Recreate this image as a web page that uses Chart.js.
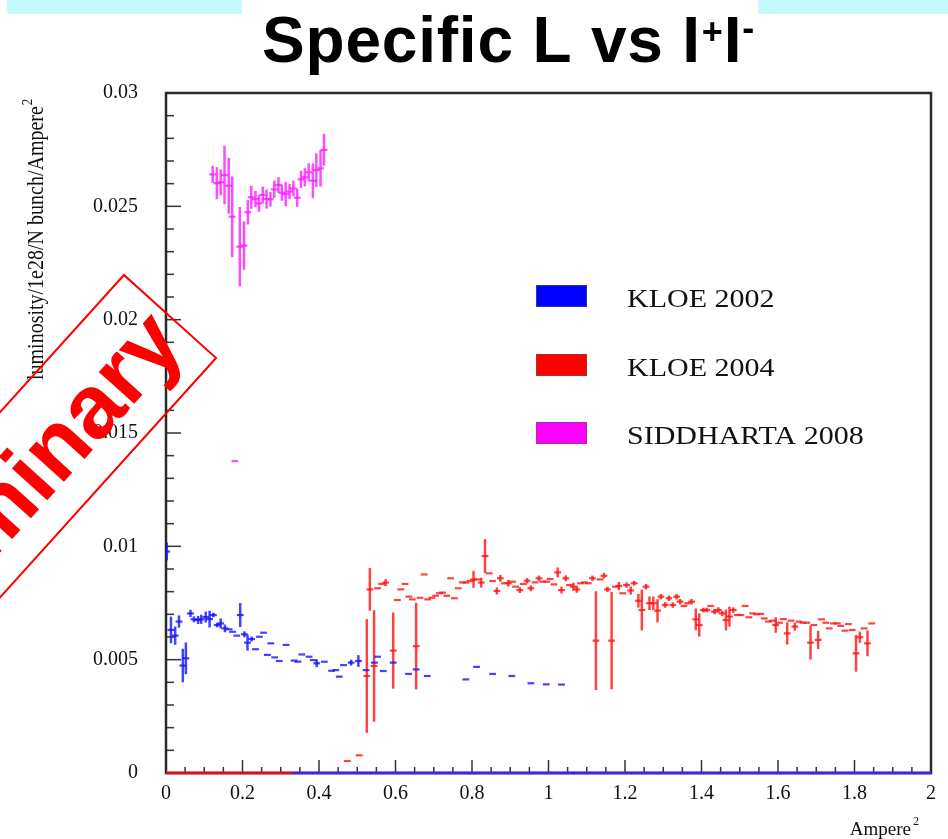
<!DOCTYPE html>
<html>
<head>
<meta charset="utf-8">
<title>Specific L vs I+I-</title>
<script src="https://cdn.jsdelivr.net/npm/chart.js@4.4.1/dist/chart.umd.min.js"></script>
<style>
    html, body { margin: 0; padding: 0; background: #fff; }
    #plot { display: block; }
</style>
</head>
<body>
<canvas id="plot" width="948" height="839"></canvas>
<script>
// Axis tick labels
const xTickLabels = ['0', '0.2', '0.4', '0.6', '0.8', '1', '1.2', '1.4', '1.6', '1.8', '2'];
const yTickLabels = ['0', '0.005', '0.01', '0.015', '0.02', '0.025', '0.03'];

const seriesNames = ['KLOE 2002', 'KLOE 2004', 'SIDDHARTA 2008'];

// KLOE 2002: current product (A^2), specific luminosity, error
const kloe02X = [
    0.002, 0.013, 0.024, 0.034, 0.044, 0.052, 0.064, 0.073, 0.084, 0.092,
    0.104, 0.114, 0.124, 0.134, 0.143, 0.154, 0.165, 0.174, 0.185, 0.194,
    0.205, 0.213, 0.224, 0.234, 0.244, 0.255, 0.265, 0.274, 0.284, 0.296,
    0.314, 0.335, 0.345, 0.355, 0.374, 0.385, 0.394, 0.414, 0.433, 0.444,
    0.453, 0.464, 0.484, 0.503, 0.523, 0.545, 0.553, 0.568, 0.594, 0.634,
    0.654, 0.683, 0.784, 0.812, 0.854, 0.904, 0.954, 0.994, 1.034
];
const kloe02Y = [
    0.00977, 0.00631, 0.00606, 0.00668, 0.00474, 0.00506, 0.00704, 0.00678, 0.00675, 0.00678,
    0.00688, 0.00679, 0.00697, 0.00653, 0.00660, 0.00638, 0.00634, 0.00623, 0.00606, 0.00697,
    0.00612, 0.00575, 0.00591, 0.00546, 0.00601, 0.00619, 0.00521, 0.00572, 0.00510, 0.00494,
    0.00565, 0.00496, 0.00491, 0.00523, 0.00513, 0.00498, 0.00484, 0.00491, 0.00451, 0.00454,
    0.00425, 0.00476, 0.00487, 0.00494, 0.00454, 0.00487, 0.00513, 0.00450, 0.00487, 0.00437,
    0.00457, 0.00428, 0.00413, 0.00468, 0.00437, 0.00428, 0.00396, 0.00391, 0.00390
];
const kloe02Err = [
    0.00039, 0.00059, 0.00040, 0.00027, 0.00074, 0.00070, 0.00016, 0.00013, 0.00018, 0.00020,
    0.00024, 0.00037, 0.00010, 0.00010, 0.00022, 0.00017, 0, 0, 0, 0.00053,
    0.00013, 0.00035, 0.00011, 0, 0, 0, 0, 0, 0, 0,
    0, 0, 0, 0, 0, 0, 0.00017, 0, 0, 0,
    0, 0, 0.00013, 0.00026, 0, 0, 0, 0, 0, 0,
    0, 0, 0, 0, 0, 0, 0, 0, 0
];

// KLOE 2004
const kloe04X = [
    0.474, 0.505, 0.525, 0.533, 0.544, 0.553, 0.564, 0.574, 0.594, 0.605,
    0.614, 0.625, 0.635, 0.644, 0.654, 0.664, 0.675, 0.684, 0.695, 0.705,
    0.715, 0.723, 0.734, 0.744, 0.754, 0.764, 0.775, 0.784, 0.795, 0.804,
    0.814, 0.824, 0.834, 0.845, 0.854, 0.865, 0.874, 0.885, 0.895, 0.906,
    0.914, 0.925, 0.934, 0.944, 0.954, 0.965, 0.975, 0.985, 0.995, 1.004,
    1.014, 1.024, 1.034, 1.045, 1.055, 1.065, 1.074, 1.084, 1.094, 1.104,
    1.115, 1.124, 1.135, 1.145, 1.154, 1.165, 1.175, 1.184, 1.194, 1.204,
    1.215, 1.224, 1.235, 1.244, 1.255, 1.264, 1.274, 1.285, 1.294, 1.305,
    1.315, 1.325, 1.335, 1.344, 1.354, 1.364, 1.374, 1.385, 1.394, 1.405,
    1.414, 1.424, 1.434, 1.444, 1.454, 1.464, 1.473, 1.483, 1.494, 1.503,
    1.514, 1.524, 1.534, 1.544, 1.555, 1.564, 1.575, 1.585, 1.594, 1.604,
    1.614, 1.624, 1.634, 1.644, 1.655, 1.665, 1.675, 1.685, 1.694, 1.705,
    1.714, 1.725, 1.734, 1.745, 1.755, 1.764, 1.775, 1.784, 1.794, 1.804,
    1.814, 1.825, 1.834, 1.845
];
const kloe04Y = [
    0.00053, 0.00078, 0.00428, 0.00810, 0.00472, 0.00815, 0.00834, 0.00840, 0.00540, 0.00763,
    0.00810, 0.00834, 0.00778, 0.00766, 0.00560, 0.00773, 0.00876, 0.00766, 0.00773, 0.00782,
    0.00793, 0.00796, 0.00782, 0.00859, 0.00771, 0.00815, 0.00841, 0.00840, 0.00847, 0.00854,
    0.00854, 0.00840, 0.00957, 0.00881, 0.00847, 0.00803, 0.00859, 0.00837, 0.00837, 0.00844,
    0.00822, 0.00807, 0.00834, 0.00848, 0.00815, 0.00841, 0.00859, 0.00844, 0.00844, 0.00856,
    0.00832, 0.00885, 0.00807, 0.00859, 0.00829, 0.00822, 0.00810, 0.00837, 0.00841, 0.00837,
    0.00859, 0.00584, 0.00854, 0.00870, 0.00810, 0.00584, 0.00822, 0.00825, 0.00793, 0.00829,
    0.00805, 0.00837, 0.00760, 0.00719, 0.00822, 0.00749, 0.00749, 0.00716, 0.00778, 0.00741,
    0.00771, 0.00741, 0.00778, 0.00756, 0.00737, 0.00749, 0.00756, 0.00678, 0.00653, 0.00719,
    0.00719, 0.00737, 0.00712, 0.00719, 0.00704, 0.00675, 0.00690, 0.00719, 0.00697, 0.00697,
    0.00737, 0.00687, 0.00704, 0.00700, 0.00702, 0.00682, 0.00668, 0.00672, 0.00653, 0.00663,
    0.00679, 0.00616, 0.00672, 0.00646, 0.00668, 0.00663, 0.00663, 0.00575, 0.00653, 0.00587,
    0.00678, 0.00663, 0.00638, 0.00660, 0.00660, 0.00649, 0.00628, 0.00657, 0.00631, 0.00528,
    0.00599, 0.00638, 0.00572, 0.00660
];
const kloe04Err = [
    0, 0, 0.00251, 0.00094, 0.00246, 0, 0, 0.00015, 0.00168, 0,
    0, 0, 0, 0, 0.00191, 0, 0, 0, 0, 0,
    0, 0, 0, 0, 0, 0, 0, 0, 0, 0.00037,
    0, 0.00022, 0.00075, 0, 0, 0.00015, 0.00015, 0, 0.00015, 0,
    0, 0.00013, 0, 0.00012, 0.00013, 0, 0.00012, 0, 0, 0,
    0, 0.00022, 0.00015, 0.00013, 0, 0.00018, 0.00015, 0, 0, 0,
    0.00012, 0.00218, 0, 0.00012, 0.00012, 0.00215, 0, 0.00018, 0, 0.00012,
    0.00018, 0.00010, 0.00030, 0.00090, 0.00012, 0.00030, 0.00030, 0.00051, 0.00012, 0.00012,
    0.00012, 0.00012, 0.00012, 0.00012, 0, 0, 0.00012, 0.00048, 0.00051, 0.00010,
    0.00010, 0, 0.00012, 0.00012, 0.00012, 0.00046, 0.00044, 0.00012, 0, 0,
    0, 0, 0, 0, 0, 0, 0, 0, 0.00034, 0,
    0, 0.00049, 0, 0.00018, 0, 0, 0, 0.00075, 0, 0.00040,
    0, 0, 0, 0, 0, 0, 0, 0, 0, 0.00081,
    0.00025, 0, 0.00057, 0
];

// SIDDHARTA 2008
const siddX = [
    0.122, 0.133, 0.143, 0.153, 0.164, 0.173, 0.180, 0.193, 0.204, 0.214,
    0.223, 0.234, 0.243, 0.253, 0.263, 0.273, 0.283, 0.294, 0.303, 0.313,
    0.323, 0.333, 0.343, 0.353, 0.363, 0.373, 0.384, 0.393, 0.404, 0.413
];
const siddY = [
    0.02641, 0.02602, 0.02606, 0.02638, 0.02591, 0.02454, 0.01376, 0.02322, 0.02327, 0.02474,
    0.02540, 0.02532, 0.02513, 0.02550, 0.02532, 0.02531, 0.02575, 0.02594, 0.02560, 0.02554,
    0.02565, 0.02579, 0.02538, 0.02619, 0.02628, 0.02650, 0.02613, 0.02660, 0.02668, 0.02749
];
const siddErr = [
    0.00038, 0.00071, 0.00057, 0.00129, 0.00123, 0.00178, 0, 0.00175, 0.00107, 0.00054,
    0.00051, 0.00036, 0.00037, 0.00037, 0.00042, 0.00032, 0.00038, 0.00035, 0.00035, 0.00054,
    0.00033, 0.00034, 0.00040, 0.00038, 0.00040, 0.00040, 0.00077, 0.00074, 0.00081, 0.00070
];

// empty bins sitting on the x axis
const emptyRedX = [0, 0.33];
const emptyBlueX = [0.33, 2];

const colBlue = 'rgba(20, 20, 255, 0.8)';
const colRed = 'rgba(255, 20, 20, 0.8)';
const colMagenta = 'rgba(255, 30, 255, 0.8)';

function points(xs, ys) {
    return xs.map((x, i) => ({ x: x, y: ys[i] }));
}

function markerSet(label, xs, ys, errs, color) {
    return {
        label: label,
        data: points(xs, ys),
        errors: errs,
        showLine: false,
        pointStyle: 'line',
        pointRadius: 3.4,
        pointBorderWidth: 2.2,
        borderColor: color,
        backgroundColor: color
    };
}

function zeroSet(xs, color) {
    return {
        label: '',
        data: xs.map(x => ({ x: x, y: 0 })),
        showLine: true,
        pointRadius: 0,
        borderWidth: 3,
        borderColor: color,
        clip: false
    };
}

const serif = "'Liberation Serif', 'Times New Roman', serif";

// frame and inward tick marks, drawn under the data
const framePlugin = {
    id: 'frame',
    beforeDatasetsDraw(chart) {
        const { ctx, chartArea: a, scales } = chart;
        ctx.save();
        ctx.strokeStyle = '#333';
        ctx.lineWidth = 1.5;
        for (let i = 0; i <= 30; i++) {
            const py = scales.y.getPixelForValue(i * 0.001);
            const len = i % 5 === 0 ? 15 : 8;
            ctx.beginPath();
            ctx.moveTo(a.left, py);
            ctx.lineTo(a.left + len, py);
            ctx.stroke();
        }
        for (let i = 0; i <= 40; i++) {
            const px = scales.x.getPixelForValue(i * 0.05);
            const len = i % 4 === 0 ? 13 : 6;
            ctx.beginPath();
            ctx.moveTo(px, a.bottom);
            ctx.lineTo(px, a.bottom - len);
            ctx.stroke();
        }
        ctx.lineWidth = 2.5;
        ctx.strokeStyle = '#2a2a2a';
        ctx.strokeRect(a.left, a.top, a.right - a.left, a.bottom - a.top);
        ctx.restore();
    }
};

// vertical error bars from each dataset's errors array
const errorBarPlugin = {
    id: 'errorBars',
    beforeDatasetsDraw(chart) {
        const { ctx, chartArea: a, scales } = chart;
        ctx.save();
        ctx.beginPath();
        ctx.rect(a.left, a.top, a.right - a.left, a.bottom - a.top);
        ctx.clip();
        ctx.lineWidth = 2.5;
        chart.data.datasets.forEach(ds => {
            if (!ds.errors) return;
            ctx.strokeStyle = ds.borderColor;
            ds.data.forEach((p, i) => {
                const e = ds.errors[i];
                if (!e) return;
                const px = scales.x.getPixelForValue(p.x);
                ctx.beginPath();
                ctx.moveTo(px, scales.y.getPixelForValue(p.y - e));
                ctx.lineTo(px, scales.y.getPixelForValue(p.y + e));
                ctx.stroke();
            });
        });
        ctx.restore();
    }
};

// title, axis titles, legend boxes and the stamp
const decorPlugin = {
    id: 'decor',
    afterDraw(chart) {
        const ctx = chart.ctx;
        ctx.save();

        // header strips
        ctx.fillStyle = '#c4fafd';
        ctx.fillRect(7, 0, 235, 14);
        ctx.fillRect(758, 0, 190, 14);

        // title with superscripts
        ctx.fillStyle = '#000';
        ctx.textBaseline = 'alphabetic';
        ctx.textAlign = 'left';
        ctx.letterSpacing = '0.8px';
        const big = "bold 64px 'Liberation Sans', Arial, sans-serif";
        const small = "bold 36px 'Liberation Sans', Arial, sans-serif";
        let tx = 262;
        ctx.font = big;
        ctx.fillText('Specific L vs I', tx, 62);
        tx += ctx.measureText('Specific L vs I').width + 1;
        ctx.font = small;
        ctx.fillText('+', tx, 44);
        tx += ctx.measureText('+').width;
        ctx.font = big;
        ctx.fillText('I', tx, 62);
        tx += ctx.measureText('I').width;
        ctx.font = small;
        ctx.fillText('-', tx, 40);
        ctx.letterSpacing = '0px';

        // y axis title
        ctx.save();
        ctx.translate(43, 380);
        ctx.rotate(-Math.PI / 2);
        ctx.scale(1, 1.15);
        ctx.font = '20px ' + serif;
        ctx.fillStyle = '#111';
        const yTitle = 'luminosity/1e28/N bunch/Ampere';
        ctx.fillText(yTitle, 0, 0);
        const yw = ctx.measureText(yTitle).width;
        ctx.font = '13px ' + serif;
        ctx.fillText('2', yw + 1, -10);
        ctx.restore();

        // x axis title
        ctx.font = '19px ' + serif;
        ctx.fillStyle = '#111';
        ctx.textAlign = 'right';
        ctx.fillText('Ampere', 911, 835);
        ctx.textAlign = 'left';
        ctx.font = '12px ' + serif;
        ctx.fillText('2', 913, 825);

        // legend
        const legendColors = ['#0000ff', '#ff0000', '#ff00ff'];
        const legendTops = [285, 354, 422];
        legendColors.forEach((c, i) => {
            ctx.fillStyle = c;
            ctx.fillRect(536, legendTops[i], 51, 22);
            ctx.strokeStyle = 'rgba(90,90,90,0.6)';
            ctx.lineWidth = 1;
            ctx.strokeRect(536.5, legendTops[i] + 0.5, 50, 21);
            ctx.save();
            ctx.translate(627, legendTops[i] + 22);
            ctx.scale(1.2, 1);
            ctx.fillStyle = '#111';
            ctx.font = '25px ' + serif;
            ctx.fillText(seriesNames[i], 0, 0);
            ctx.restore();
        });

        // rotated "Preliminary" stamp
        ctx.save();
        ctx.translate(170, 316.5);
        ctx.rotate(-0.8367);
        ctx.strokeStyle = '#ff0000';
        ctx.lineWidth = 2;
        ctx.strokeRect(-700, -62, 700, 124);
        ctx.fillStyle = '#ff0000';
        ctx.font = "bold 90px 'Liberation Sans', Arial, sans-serif";
        ctx.textAlign = 'right';
        ctx.fillText('Preliminary', -10, 32);
        ctx.restore();

        ctx.restore();
    }
};

new Chart(document.getElementById('plot'), {
    type: 'scatter',
    data: {
        datasets: [
            zeroSet(emptyRedX, 'rgba(230, 20, 40, 0.9)'),
            zeroSet(emptyBlueX, 'rgba(70, 40, 235, 0.9)'),
            markerSet(seriesNames[0], kloe02X, kloe02Y, kloe02Err, colBlue),
            markerSet(seriesNames[1], kloe04X, kloe04Y, kloe04Err, colRed),
            markerSet(seriesNames[2], siddX, siddY, siddErr, colMagenta)
        ]
    },
    options: {
        responsive: false,
        devicePixelRatio: 1,
        animation: false,
        layout: { padding: { top: 93, right: 17, left: 0, bottom: 0 } },
        plugins: {
            legend: { display: false },
            tooltip: { enabled: false }
        },
        scales: {
            x: {
                type: 'linear',
                min: 0,
                max: 2,
                grid: { display: false, drawTicks: false },
                border: { display: false },
                afterFit(scale) { scale.height = 66; },
                ticks: {
                    stepSize: 0.2,
                    autoSkip: false,
                    maxRotation: 0,
                    padding: 9,
                    color: '#111',
                    font: { family: serif, size: 20 },
                    callback: v => xTickLabels.find(l => Math.abs(parseFloat(l) - v) < 1e-9)
                }
            },
            y: {
                type: 'linear',
                min: 0,
                max: 0.03,
                grid: { display: false, drawTicks: false },
                border: { display: false },
                afterFit(scale) { scale.width = 166; },
                ticks: {
                    stepSize: 0.005,
                    autoSkip: false,
                    padding: 28,
                    color: '#111',
                    font: { family: serif, size: 20 },
                    callback: v => yTickLabels.find(l => Math.abs(parseFloat(l) - v) < 1e-9)
                }
            }
        }
    },
    plugins: [framePlugin, errorBarPlugin, decorPlugin]
});
</script>
</body>
</html>
